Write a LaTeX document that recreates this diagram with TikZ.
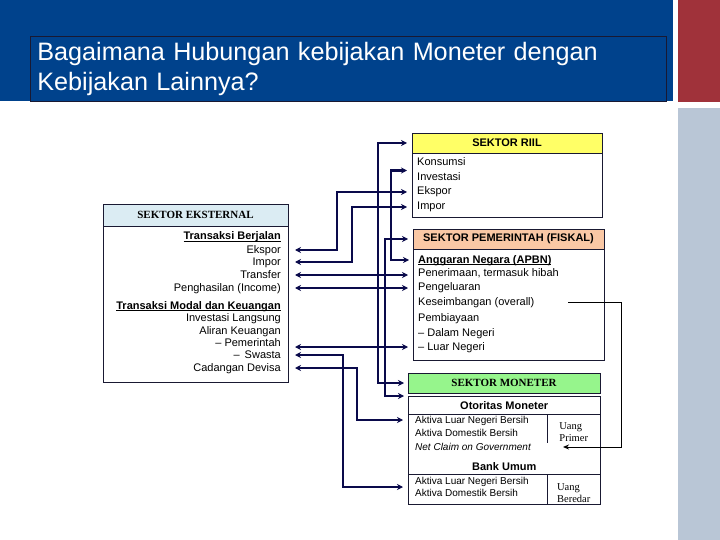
\documentclass[tikz,border=0pt]{standalone}
\usepackage{fontspec}
\setmainfont{Liberation Sans}
\newfontfamily\timesfont{Liberation Serif}
\usetikzlibrary{positioning, calc, arrows.meta}

\definecolor{banner}{RGB}{0,66,140}
\definecolor{strip}{RGB}{160,50,58}
\definecolor{sidebar}{RGB}{185,198,214}
\definecolor{navy}{RGB}{10,10,75}
\definecolor{edge}{RGB}{25,25,50}
\definecolor{riilfill}{RGB}{255,255,102}
\definecolor{extfill}{RGB}{219,236,243}
\definecolor{fisfill}{RGB}{250,200,165}
\definecolor{monfill}{RGB}{150,245,140}

% underline cut at a fixed depth
\newcommand{\headul}[1]{\underline{\smash{\textbf{#1}}}}

\begin{document}
\begin{tikzpicture}[x=1pt, y=-1pt,
    box/.style={draw=edge, line width=0.8pt, rectangle, inner sep=0pt, outer sep=0pt},
    head/.style={box, font=\fontsize{11}{13}\selectfont\bfseries},
    serifhead/.style={box, font=\fontsize{11}{13}\selectfont\timesfont\bfseries},
    row/.style={inner sep=0pt, font=\fontsize{11}{13}\selectfont, text height=8pt, text depth=2pt},
    smallrow/.style={row, font=\fontsize{10}{12}\selectfont},
    uang/.style={inner sep=0pt, inner xsep=6pt, anchor=north west, minimum width=53pt,
      align=left, font=\fontsize{10.5}{12.5}\selectfont\timesfont},
    conn/.style={{Stealth[length=6pt,width=6pt]}-{Stealth[length=6pt,width=6pt]}, line width=2.2pt, draw=navy, shorten <=7pt, shorten >=5pt},
    connR/.style={conn, shorten <=5pt, shorten >=4pt},
    thinconn/.style={-{Stealth[length=6pt,width=5pt]}, line width=1pt, draw=black},
  ]
  \useasboundingbox (0,0) rectangle (720,540);

  % Background
  \fill[banner] (0,0) rectangle (673,101);
  \fill[strip] (678,0) rectangle (720,102);
  \fill[sidebar] (678,108) rectangle (720,540);

  % Title
  \node[draw=edge, line width=0.8pt, anchor=north west, minimum height=65pt,
    text width=622pt, inner xsep=7pt, inner ysep=2pt, align=left, text=white,
    font=\fontsize{25.2}{30}\selectfont] (title) at (30,36)
    {Bagaimana Hubungan kebijakan Moneter dengan\\Kebijakan Lainnya?};

  % Sektor Riil
  \node[head, fill=riilfill, anchor=north west, minimum width=190pt, minimum height=20pt] (riilH) at (412,133) {SEKTOR RIIL};
  \node[box, below=0pt of riilH, minimum width=190pt, minimum height=64pt] (riil) {};
  \node[row, anchor=west] (konsumsi) at (417,163) {Konsumsi};
  \node[row, anchor=west] (investasi) at (417,178) {Investasi};
  \node[row, anchor=west] (eksporR) at (417,192) {Ekspor};
  \node[row, anchor=west] (imporR) at (417,207) {Impor};

  % Sektor Eksternal
  \node[serifhead, fill=extfill, anchor=north west, minimum width=185pt, minimum height=22pt] (extH) at (103,204) {SEKTOR EKSTERNAL};
  \node[box, below=0pt of extH, minimum width=185pt, minimum height=156pt] (ext) {};
  \node[row, anchor=east] (berjalan) at (281,237) {\headul{Transaksi Berjalan}};
  \node[row, anchor=east] (eksporE) at (281,250) {Ekspor};
  \node[row, anchor=east] (imporE) at (281,262) {Impor};
  \node[row, anchor=east] (transfer) at (281,275) {Transfer};
  \node[row, anchor=east] (income) at (281,288) {Penghasilan (Income)};
  \node[row, anchor=east] (modal) at (281,306) {\headul{Transaksi Modal dan Keuangan}};
  \node[row, anchor=east] (langsung) at (281,318) {Investasi Langsung};
  \node[row, anchor=east] (aliran) at (281,331) {Aliran Keuangan};
  \node[row, anchor=east] (pemerintah) at (281,343) {– Pemerintah};
  \node[row, anchor=east] (swasta) at (281,355) {–\hspace{5pt}Swasta};
  \node[row, anchor=east] (cadangan) at (281,368) {Cadangan Devisa};

  % Sektor Pemerintah (Fiskal)
  \node[head, fill=fisfill, anchor=north west, minimum width=191pt, minimum height=20pt] (fisH) at (413,229) {SEKTOR PEMERINTAH (FISKAL)};
  \node[box, below=0pt of fisH, minimum width=191pt, minimum height=111pt] (fis) {};
  \node[row, anchor=west] (anggaran) at (418,260) {\headul{Anggaran Negara (APBN)}};
  \node[row, anchor=west] (penerimaan) at (418,273) {Penerimaan, termasuk hibah};
  \node[row, anchor=west] (pengeluaran) at (418,287) {Pengeluaran};
  \node[row, anchor=west] (kesimb) at (418,302) {Keseimbangan (overall)};
  \node[row, anchor=west] (pembiayaan) at (418,318) {Pembiayaan};
  \node[row, anchor=west] (dalamneg) at (418,333) {– Dalam Negeri};
  \node[row, anchor=west] (luarneg) at (418,347) {– Luar Negeri};

  % Sektor Moneter
  \node[serifhead, fill=monfill, anchor=north west, minimum width=192pt, minimum height=20pt] (monH) at (408,373) {SEKTOR MONETER};
  \node[box, below=3pt of monH, minimum width=192pt, minimum height=108pt] (mon) {};
  \node[inner sep=0pt, anchor=north west, minimum width=192pt, minimum height=18pt,
    font=\fontsize{11}{13}\selectfont\bfseries] (oto) at (mon.north west) {Otoritas Moneter};
  \draw[edge, line width=0.8pt] (oto.south west) -- (oto.south east);
  \node[uang, minimum height=28pt] (uangP) at (oto.south -| 547,0) {\rule{0pt}{14pt}Uang\\Primer};
  \draw[edge, line width=0.8pt] (uangP.north west) -- (uangP.south west);
  \node[smallrow, anchor=west] (aktluarA) at (415,420) {Aktiva Luar Negeri Bersih};
  \node[smallrow, anchor=west] (aktdomA) at (415,433) {Aktiva Domestik Bersih};
  \node[smallrow, anchor=west] (netclaim) at (415,447) {\itshape Net Claim on Government};
  \node[inner sep=0pt, anchor=north west, minimum width=192pt, minimum height=16pt,
    font=\fontsize{11}{13}\selectfont\bfseries] (bank) at (408,458) {Bank Umum};
  \draw[edge, line width=0.8pt] (bank.south west) -- (bank.south east);
  \node[uang, minimum height=30pt] (uangB) at (bank.south -| 547,0) {\rule{0pt}{14pt}Uang\\Beredar};
  \draw[edge, line width=0.8pt] (uangB.north west) -- (uangB.south west);
  \node[smallrow, anchor=west] (aktluarB) at (415,481) {Aktiva Luar Negeri Bersih};
  \node[smallrow, anchor=west] (aktdomB) at (415,493) {Aktiva Domestik Bersih};

  % Riil / Fiskal -> Moneter
  \draw[connR] (riilH.west) -- ++(-34,0) |- (monH.west);
  \draw[connR] (fisH.west) -- ++(-28,0) |- (mon.north west);
  \draw[connR] ($(riil.west |- konsumsi)!.5!(riil.west |- investasi)$) -- ++(-21,0) |- (fis.west |- anggaran);

  % Eksternal -> other sectors
  \draw[conn] (ext.east |- eksporE) -- ++(49,0) |- (riil.west |- eksporR);
  \draw[conn] (ext.east |- imporE) -- ++(64,0) |- (riil.west |- imporR);
  \draw[conn] (ext.east |- transfer) -- (fis.west |- transfer);
  \draw[conn] (ext.east |- income) -- (fis.west |- income);
  \draw[conn] (ext.east |- luarneg) -- (fis.west |- luarneg);
  \draw[conn] (ext.east |- swasta) -- ++(55,0) |- ($(mon.west |- aktluarB)!.5!(mon.west |- aktdomB)$);
  \draw[conn] (ext.east |- cadangan) -- ++(69,0) |- (mon.west |- aktluarA);

  % Keseimbangan -> Net Claim
  \draw[thinconn] ($(fis.east |- kesimb)+(-36,0)$) -- ++(53,0) |- ($(netclaim.east)+(32,0)$);
\end{tikzpicture}
\end{document}
